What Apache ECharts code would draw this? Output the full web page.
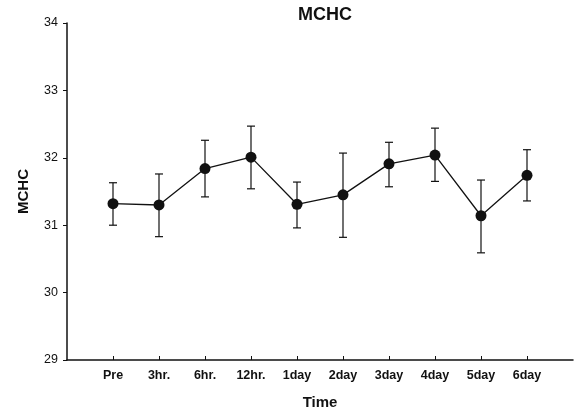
<!DOCTYPE html>
<html><head><meta charset="utf-8">
<script src="https://cdn.jsdelivr.net/npm/echarts@6/dist/echarts.min.js"></script>
<style>html,body{margin:0;padding:0;background:#fff}#c{width:574px;height:412px}</style>
</head><body><div id="c"></div>
<script>
const categories = ['Pre','3hr.','6hr.','12hr.','1day','2day','3day','4day','5day','6day'];
const means = [31.32, 31.30, 31.84, 32.01, 31.31, 31.45, 31.91, 32.04, 31.14, 31.74];
const upper = [31.63, 31.76, 32.26, 32.47, 31.64, 32.07, 32.23, 32.44, 31.67, 32.12];
const lower = [31.00, 30.83, 31.42, 31.54, 30.96, 30.82, 31.57, 31.65, 30.59, 31.36];
const yTicks = [29, 30, 31, 32, 33, 34];

const font = 'Liberation Sans, Arial, sans-serif';
const idx = categories.map((c, i) => i);
const chart = echarts.init(document.getElementById('c'));
chart.setOption({
  backgroundColor: '#fff',
  animation: false,
  title: { text: 'MCHC', left: 320, top: 1, textAlign: 'center',
    textStyle: { fontFamily: font, fontSize: 18, fontWeight: 'bold', color: '#111' } },
  grid: { left: 67, right: 1, top: 23, bottom: 52, containLabel: false, outerBoundsMode: 'none' },
  xAxis: {
    type: 'value', min: -1, max: 10, interval: 1,
    name: 'Time', nameLocation: 'middle', nameGap: 35,
    nameTextStyle: { fontFamily: font, fontSize: 15, fontWeight: 'bold', color: '#111' },
    axisLine: { show: true, onZero: false, lineStyle: { color: '#111', width: 1.5 } },
    axisTick: { show: true, inside: true, length: 4, customValues: idx, lineStyle: { color: '#111' } },
    splitLine: { show: false },
    axisLabel: {
      margin: 9, fontFamily: font, fontSize: 12.5, fontWeight: 'bold', color: '#111',
      customValues: idx,
      formatter: v => categories[v] || ''
    }
  },
  yAxis: {
    type: 'value', min: yTicks[0], max: yTicks[yTicks.length - 1], interval: 1,
    name: 'MCHC', nameLocation: 'middle', nameGap: 36, nameRotate: 90,
    nameTextStyle: { fontFamily: font, fontSize: 15, fontWeight: 'bold', color: '#111' },
    axisLine: { show: true, onZero: false, lineStyle: { color: '#111', width: 1.5 } },
    axisTick: { show: true, inside: false, length: 4, lineStyle: { color: '#111' } },
    splitLine: { show: false },
    axisLabel: { margin: 9, fontFamily: font, fontSize: 12.5, color: '#111' }
  },
  series: [
    {
      type: 'custom',
      data: idx.map(i => [i, lower[i], upper[i]]),
      renderItem: function (params, api) {
        const x = api.value(0);
        const lo = api.coord([x, api.value(1)]);
        const hi = api.coord([x, api.value(2)]);
        const w = 4;
        const st = { stroke: '#111', lineWidth: 1.2 };
        return { type: 'group', children: [
          { type: 'line', shape: { x1: lo[0], y1: lo[1], x2: hi[0], y2: hi[1] }, style: st },
          { type: 'line', shape: { x1: hi[0] - w, y1: hi[1], x2: hi[0] + w, y2: hi[1] }, style: st },
          { type: 'line', shape: { x1: lo[0] - w, y1: lo[1], x2: lo[0] + w, y2: lo[1] }, style: st }
        ]};
      },
      z: 1
    },
    {
      type: 'line',
      data: idx.map(i => [i, means[i]]),
      symbol: 'circle', symbolSize: 11,
      lineStyle: { color: '#111', width: 1.3 },
      itemStyle: { color: '#111' },
      z: 2
    }
  ]
});
</script></body></html>
